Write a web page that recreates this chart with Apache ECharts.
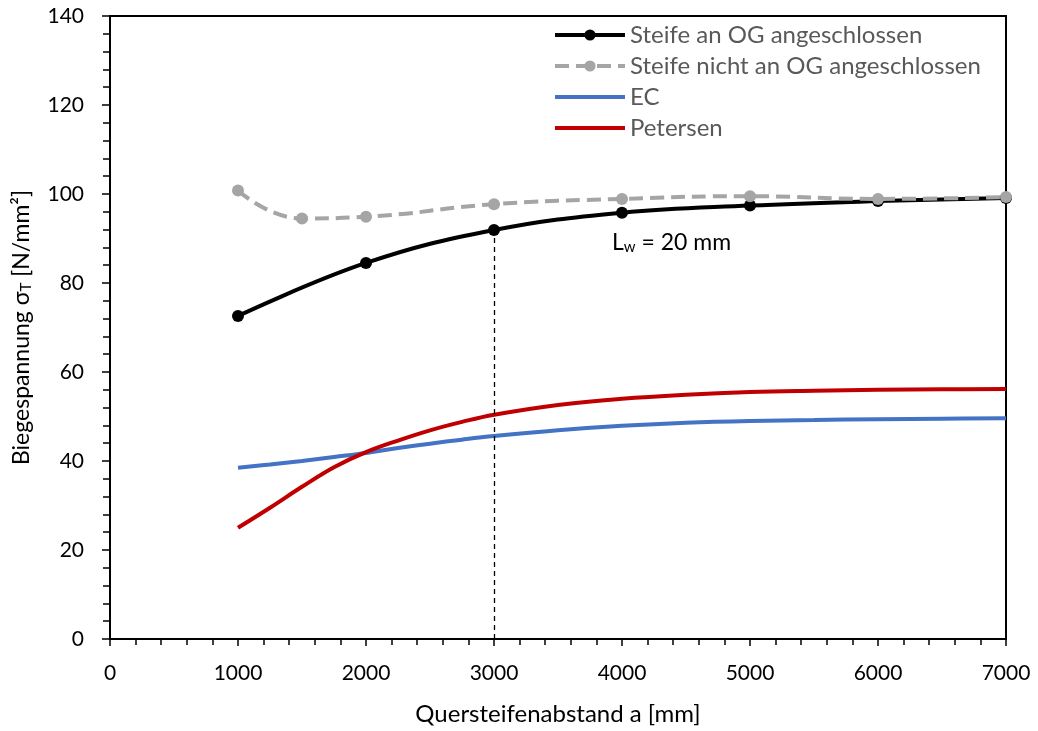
<!DOCTYPE html>
<html>
<head>
<meta charset="utf-8">
<script src="https://cdn.jsdelivr.net/npm/echarts@6/dist/echarts.min.js"></script>
<style>
  html, body { margin: 0; padding: 0; background: #fff; }
  #chart { width: 1038px; height: 731px; }
</style>
</head>
<body>
<div id="chart"></div>
<script>
// Stiffener spacing a [mm] and bending stress σT [N/mm²]
const xTicks = [0, 1000, 2000, 3000, 4000, 5000, 6000, 7000];

const spacingConnected = [1000, 2000, 3000, 4000, 5000, 6000, 7000];
const stressConnected  = [72.6, 84.5, 91.9, 95.8, 97.4, 98.4, 99.1];

const spacingFree = [1000, 1500, 2000, 3000, 4000, 5000, 6000, 7000];
const stressFree  = [100.8, 94.5, 94.9, 97.7, 98.9, 99.5, 98.9, 99.3];

const spacingCurves  = [1000, 1250, 1500, 1750, 2000, 2250, 2500, 2750, 3000, 3500, 4000, 4500, 5000, 5500, 6000, 6500, 7000];
const stressEC       = [38.5, 39.2, 40.0, 40.9, 41.8, 42.9, 43.9, 44.8, 45.6, 46.9, 47.9, 48.6, 49.0, 49.2, 49.4, 49.5, 49.6];
const stressPetersen = [25.0, 29.5, 34.2, 38.6, 42.0, 44.6, 46.9, 48.8, 50.4, 52.6, 54.0, 54.9, 55.5, 55.8, 56.0, 56.1, 56.2];

const markSpacing = 3000;

const pairs = (xs, ys) => xs.map((x, i) => [x, ys[i]]);

const FONT = 'Lato';
const chart = echarts.init(document.getElementById('chart'));

chart.setOption({
  backgroundColor: '#ffffff',
  animation: false,
  textStyle: { fontFamily: FONT },
  grid: {
    left: 110, right: 32, top: 16, bottom: 90,
    show: true, borderColor: '#000', borderWidth: 2, containLabel: false
  },
  legend: {
    left: 548, top: 18, orient: 'vertical',
    itemWidth: 70, itemHeight: 14, itemGap: 7,
    lineStyle: { width: 4 },
    textStyle: { fontFamily: FONT, fontSize: 24, color: '#595959', lineHeight: 24 },
    data: [
      { name: 'Steife an OG angeschlossen' },
      { name: 'Steife nicht an OG angeschlossen' },
      { name: 'EC', itemStyle: { opacity: 0 } },
      { name: 'Petersen', itemStyle: { opacity: 0 } }
    ]
  },
  xAxis: {
    type: 'value', min: 0, max: 7000, interval: 1000,
    name: 'Quersteifenabstand a [mm]', nameLocation: 'middle', nameGap: 63,
    nameTextStyle: { fontFamily: FONT, fontSize: 24, color: '#000' },
    axisLine: { show: true, lineStyle: { color: '#000', width: 2 } },
    axisTick: { show: true, inside: false, length: 7, lineStyle: { color: '#000', width: 1.5 } },
    minorTick: { show: true, splitNumber: 5, length: 6, lineStyle: { color: '#000', width: 1.5 } },
    splitLine: { show: false },
    axisLabel: { margin: 24, fontFamily: FONT, fontSize: 21, color: '#000',
      formatter: v => xTicks.includes(v) ? String(v) : '' }
  },
  yAxis: {
    type: 'value', min: 0, max: 140, interval: 20,
    name: '{n|Biegespannung σ}{s|T}{n| [N/mm²]}', nameLocation: 'middle', nameGap: 76,
    nameTextStyle: {
      rich: {
        n: { fontFamily: FONT, fontSize: 23, color: '#000' },
        s: { fontFamily: FONT, fontSize: 15, color: '#000', verticalAlign: 'bottom', padding: [9, 0, 0, 0] }
      }
    },
    axisLine: { show: true, lineStyle: { color: '#000', width: 2 } },
    axisTick: { show: true, inside: false, length: 8, lineStyle: { color: '#000', width: 1.5 } },
    minorTick: { show: true, splitNumber: 5, length: 7, lineStyle: { color: '#000', width: 1.5 } },
    splitLine: { show: false },
    axisLabel: { margin: 26, fontFamily: FONT, fontSize: 21, color: '#000' }
  },
  graphic: [{
    type: 'text', left: 612, top: 231, silent: true,
    style: {
      text: '{n|L}{s|w}{n| = 20 mm}',
      rich: {
        n: { fontFamily: FONT, fontSize: 23, fill: '#000' },
        s: { fontFamily: FONT, fontSize: 15, fill: '#000', verticalAlign: 'bottom', padding: [10, 0, 0, 0] }
      }
    }
  }],
  series: [
    {
      name: 'Steife an OG angeschlossen', type: 'line', smooth: 0.4,
      data: pairs(spacingConnected, stressConnected),
      symbol: 'circle', symbolSize: 12,
      itemStyle: { color: '#000' },
      lineStyle: { color: '#000', width: 4 },
      z: 3,
      markLine: {
        silent: true, symbol: 'none',
        label: { show: false },
        lineStyle: { color: '#000', width: 1.3, type: [5, 4] },
        data: [[
          { coord: [markSpacing, 0] },
          { coord: [markSpacing, stressConnected[spacingConnected.indexOf(markSpacing)]] }
        ]]
      }
    },
    {
      name: 'Steife nicht an OG angeschlossen', type: 'line', smooth: 0.5,
      data: pairs(spacingFree, stressFree),
      symbol: 'circle', symbolSize: 12,
      itemStyle: { color: '#A5A5A5' },
      lineStyle: { color: '#A5A5A5', width: 4, type: [14, 7] },
      z: 4
    },
    {
      name: 'EC', type: 'line', smooth: 0.4,
      data: pairs(spacingCurves, stressEC),
      symbol: 'none', showSymbol: false,
      itemStyle: { color: '#4472C4' },
      lineStyle: { color: '#4472C4', width: 4 },
      z: 2
    },
    {
      name: 'Petersen', type: 'line', smooth: 0.4,
      data: pairs(spacingCurves, stressPetersen),
      symbol: 'none', showSymbol: false,
      itemStyle: { color: '#C00000' },
      lineStyle: { color: '#C00000', width: 4 },
      z: 3
    }
  ]
});
</script>
</body>
</html>
